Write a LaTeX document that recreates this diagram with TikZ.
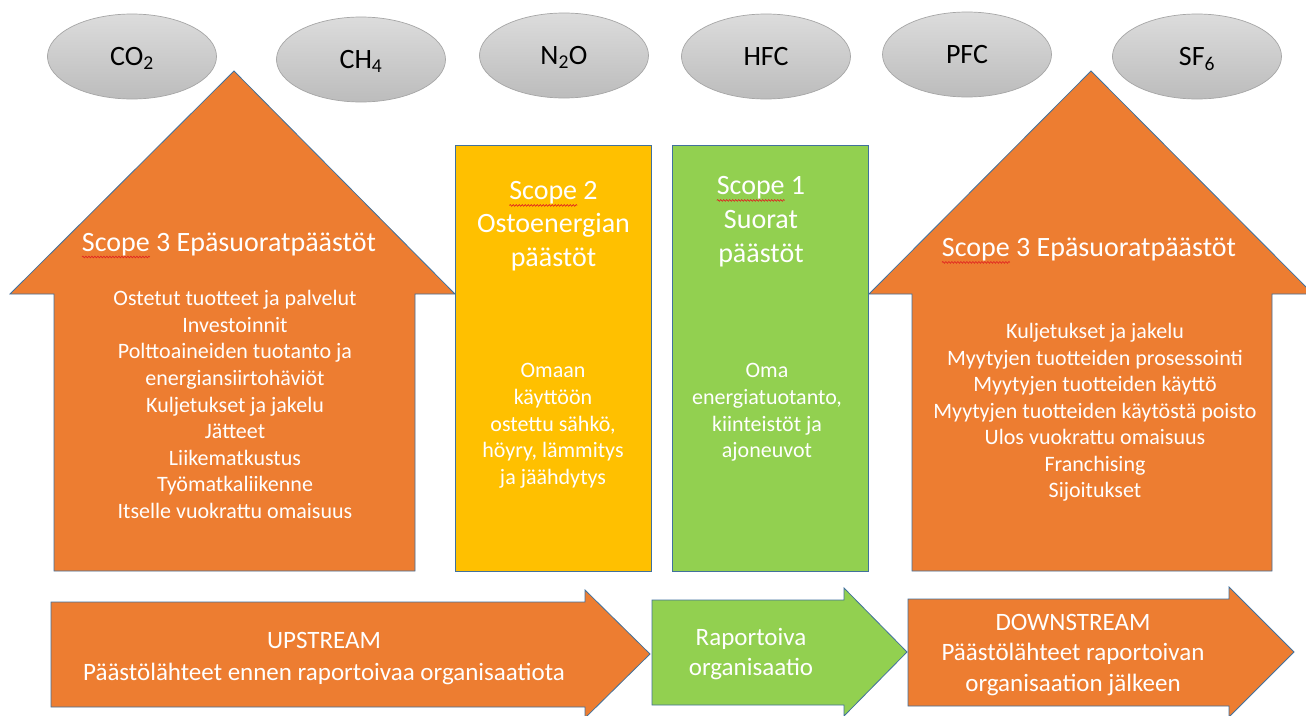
\documentclass[tikz,border=0pt]{standalone}
\usepackage{fontspec}
\setmainfont{Carlito}
\usetikzlibrary{shapes.geometric,decorations.pathmorphing}
\definecolor{orng}{HTML}{ED7D31}
\definecolor{yell}{HTML}{FFC000}
\definecolor{grn}{HTML}{92D050}
\definecolor{edgeblue}{HTML}{41719C}
\definecolor{gasedge}{HTML}{A6A6A6}
\definecolor{gastop}{HTML}{DCDCDC}
\definecolor{gasbot}{HTML}{BCBCBC}
\definecolor{spellred}{HTML}{E02020}
\newlength\wScope
\newlength\wLineA
\newlength\wLineB
\newlength\wLineC
\newcommand\titlefont{\fontsize{28}{33.5}\selectfont}
\begin{document}
\settowidth{\wScope}{\titlefont Scope}%
\settowidth{\wLineA}{\titlefont Scope 3 Epäsuoratpäästöt}%
\settowidth{\wLineB}{\titlefont Scope 2}%
\settowidth{\wLineC}{\titlefont Scope 1}%
\begin{tikzpicture}[x=1pt,y=-1pt,
 gas/.style={ellipse, draw=gasedge, line width=0.7pt, top color=gastop, bottom color=gasbot,
   minimum width=169pt, minimum height=85pt, inner sep=0pt, text height=18pt, text depth=0pt,
   font=\fontsize{28}{33}\selectfont},
 shapeedge/.style={draw=edgeblue, line width=0.8pt, line join=miter},
 title/.style={text=white, align=center, anchor=base, inner sep=0pt, font=\titlefont},
 body/.style={text=white, align=center, anchor=base, inner sep=0pt, font=\fontsize{22}{26.7}\selectfont},
 flow/.style={text=white, align=center, anchor=base, inner sep=0pt, font=\fontsize{25}{30.5}\selectfont},
 spellmark/.style={draw=spellred, line width=0.6pt, decorate, decoration={snake, amplitude=0.9pt, segment length=3pt}},
]
\fill[white] (0,0) rectangle (1306,715);
\useasboundingbox (0,0) rectangle (1306,715);

% gases
\node[gas] (co2) at (132,56.5) {CO\textsubscript{2}};
\node[gas] (ch4) at (361,59.5) {CH\textsubscript{4}};
\node[gas] (n2o) at (564,55.5) {N\textsubscript{2}O};
\node[gas] (hfc) at (766,56.5) {HFC};
\node[gas] (pfc) at (967,54.5) {PFC};
\node[gas] (sf6) at (1197,56.5) {SF\textsubscript{6}};

% scope 3 upstream arrow
\path[shapeedge, fill=orng] (10,294) -- (234,71) -- (455,294) -- (415,294) -- (415,571) -- (54,571) -- (54,294) -- cycle;
% scope 2 and scope 1 boxes
\path[shapeedge, fill=yell] (455,145) rectangle (651,571);
\path[shapeedge, fill=grn] (672,145) rectangle (868,571);
% scope 3 downstream arrow
\path[shapeedge, fill=orng] (869,294) -- (1091,71) -- (1313,294) -- (1272,294) -- (1272,571) -- (912,571) -- (912,294) -- cycle;

% bottom flow arrows
\path[shapeedge, fill=orng] (51,602) -- (585,602) -- (585,590) -- (650,654) -- (585,718) -- (585,707) -- (51,707) -- cycle;
\path[shapeedge, fill=grn] (652,600) -- (844,600) -- (844,588) -- (907,652) -- (844,716) -- (844,705) -- (652,705) -- cycle;
\path[shapeedge, fill=orng] (908,599) -- (1229,599) -- (1229,587) -- (1294,652) -- (1229,717) -- (1229,706) -- (908,706) -- cycle;

% texts (anchor base = baseline of the last line)
\node[title] (t3l) at (229,251) {Scope 3 Epäsuoratpäästöt};
\node[body, font=\fontsize{22}{26.6}\selectfont] (b3l) at (235,518.4) {Ostetut tuotteet ja palvelut\\Investoinnit\\Polttoaineiden tuotanto ja\\energiansiirtohäviöt\\Kuljetukset ja jakelu\\Jätteet\\Liikematkustus\\Työmatkaliikenne\\Itselle vuokrattu omaisuus};
\node[title] (t2) at (553.5,266.4) {Scope 2\\Ostoenergian\\päästöt};
\node[body] (b2) at (553,484.4) {Omaan\\käyttöön\\ostettu sähkö,\\höyry, lämmitys\\ja jäähdytys};
\node[title, font=\fontsize{28}{34}\selectfont] (t1) at (761,262.4) {Scope 1\\Suorat\\päästöt};
\node[body] (b1) at (767,457.7) {Oma\\energiatuotanto,\\kiinteistöt ja\\ajoneuvot};
\node[title] (t3r) at (1089,256.4) {Scope 3 Epäsuoratpäästöt};
\node[body, font=\fontsize{22}{26.5}\selectfont] (b3r) at (1095,497.6) {Kuljetukset ja jakelu\\Myytyjen tuotteiden prosessointi\\Myytyjen tuotteiden käyttö\\Myytyjen tuotteiden käytöstä poisto\\Ulos vuokrattu omaisuus\\Franchising\\Sijoitukset};
\node[flow, font=\fontsize{25}{32}\selectfont] (up) at (324,680) {UPSTREAM\\Päästölähteet ennen raportoivaa organisaatiota};
\node[flow, font=\fontsize{25}{30}\selectfont] (org) at (751,675.5) {Raportoiva\\organisaatio};
\node[flow] (down) at (1073,691) {DOWNSTREAM\\Päästölähteet raportoivan\\organisaation jälkeen};

% spelling marks under "Scope"
\coordinate (m3l) at ([xshift=-0.5\wLineA, yshift=-6pt]t3l.base);
\coordinate (m3r) at ([xshift=-0.5\wLineA, yshift=-6pt]t3r.base);
\coordinate (m2) at ([xshift=-0.5\wLineB, yshift=61pt]t2.base);
\coordinate (m1) at ([xshift=-0.5\wLineC, yshift=62pt]t1.base);
\draw[spellmark] (m3l) -- ([xshift=\wScope]m3l);
\draw[spellmark] (m3r) -- ([xshift=\wScope]m3r);
\draw[spellmark] (m2) -- ([xshift=\wScope]m2);
\draw[spellmark] (m1) -- ([xshift=\wScope]m1);
\end{tikzpicture}
\end{document}
